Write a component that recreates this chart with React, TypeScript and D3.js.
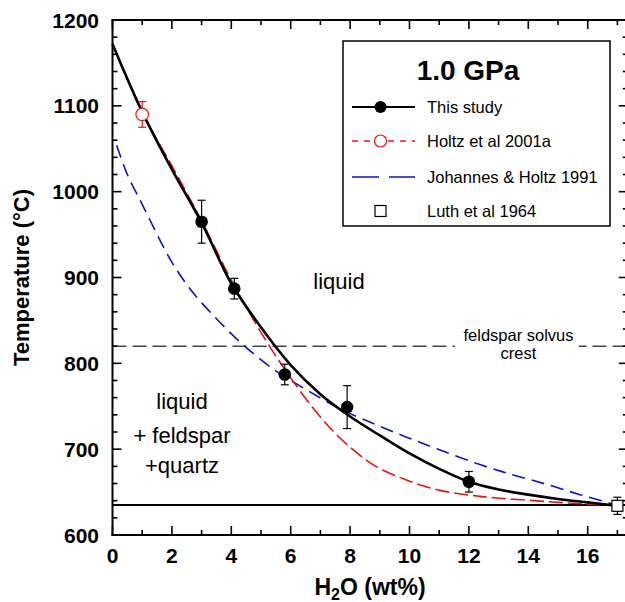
import React from "react";
import * as d3 from "d3";

// ---- data ----
const studyX = [3, 4.1, 5.8, 7.9, 12];
const studyT = [965, 887, 787, 749, 662];
const studyErr = [25, 12, 12, 25, 12];

const studyCurveX = [0, 1, 2, 3, 4, 5, 6, 7, 8, 9, 10, 11, 12, 13, 14, 15, 16, 17];
const studyCurveT = [1172, 1093, 1026, 964, 893, 842, 798, 764, 738, 716, 695, 677, 662, 653, 647, 642, 638, 634];

const holtzX = [1];
const holtzT = [1090];
const holtzErr = [15];
const holtzCurveX = [0.2, 1, 2, 3, 4, 5, 5.86, 6.87, 7.66, 8.77, 9.9, 11.03, 12.37, 14.62, 15.97, 17];
const holtzCurveT = [1155, 1092, 1030, 966, 897, 836, 790, 743, 713, 682, 664, 652, 645, 639, 636, 634];

const jhCurveX = [0.14, 0.5, 0.93, 1.26, 1.71, 2.1, 2.72, 3.5, 4.29, 4.97, 5.64, 6.54, 7.66, 8.78, 9.9, 11.03, 12.37, 13.49, 14.62, 15.74, 16.75, 17];
const jhCurveT = [1054, 1020, 990, 967, 936, 912, 882, 852, 825, 805, 788, 769, 747, 730, 714, 699, 682, 670, 659, 647, 637, 634];

const luthX = [17];
const luthT = [634];
const luthErr = [10];

const solidusT = 635;
const solvusT = 820;

const xMajorTicks = [0, 2, 4, 6, 8, 10, 12, 14, 16];
const yMajorTicks = [600, 700, 800, 900, 1000, 1100, 1200];

const legendLabels = ["This study", "Holtz et al 2001a", "Johannes & Holtz 1991", "Luth et al 1964"];

export default function App() {
  const W = 625, H = 602;
  const left = 112.5, top = 20, bottom = 535;
  const x = d3.scaleLinear().domain([0, 17.35]).range([left, 627.8]);
  const y = d3.scaleLinear().domain([600, 1200]).range([bottom, top]);
  const right = x(17.35);

  const line = d3.line<[number, number]>().x(d => x(d[0])).y(d => y(d[1])).curve(d3.curveCatmullRom.alpha(0.5));
  const zip = (a: number[], b: number[]) => a.map((v, i) => [v, b[i]] as [number, number]);

  const xMinor = d3.range(0, 18, 1);
  const yMinor = d3.range(600, 1201, 20);
  const font = "Liberation Sans, Arial, Helvetica, sans-serif";

  const errBar = (cx: number, cy: number, e: number, color: string, key: string) => (
    <g key={key} stroke={color} strokeWidth={1.2}>
      <line x1={x(cx)} x2={x(cx)} y1={y(cy + e)} y2={y(cy - e)} />
      <line x1={x(cx) - 4} x2={x(cx) + 4} y1={y(cy + e)} y2={y(cy + e)} />
      <line x1={x(cx) - 4} x2={x(cx) + 4} y1={y(cy - e)} y2={y(cy - e)} />
    </g>
  );

  const lx1 = 352, lx2 = 415, lmx = 380.5, ltx = 427;
  const ly = [107, 141, 177, 211];

  return (
    <svg width={W} height={H} style={{ position: "absolute", left: 0, top: 0, background: "#fff" }} fontFamily={font}>
      <rect x={0} y={0} width={W} height={H} fill="#fff" />
      {/* reference lines */}
      <line x1={left} x2={right} y1={y(solidusT)} y2={y(solidusT)} stroke="#000" strokeWidth={2} />
      <line x1={left} x2={right} y1={y(solvusT)} y2={y(solvusT)} stroke="#444" strokeWidth={1.5} strokeDasharray="14,6" />
      <rect x={455} y={y(solvusT) - 7} width={124} height={14} fill="#fff" />
      <text x={518.5} y={341} textAnchor="middle" fontSize={16.5} fill="#000">feldspar solvus</text>
      <text x={518.5} y={359} textAnchor="middle" fontSize={16.5} fill="#000">crest</text>

      {/* curves */}
      <path d={line(zip(jhCurveX, jhCurveT)) || ""} fill="none" stroke="#1010d0" strokeWidth={1.6} strokeDasharray="13,7" />
      <path d={line(zip(holtzCurveX, holtzCurveT)) || ""} fill="none" stroke="#ee1111" strokeWidth={1.6} strokeDasharray="14,5" />
      <path d={line(zip(studyCurveX, studyCurveT)) || ""} fill="none" stroke="#000" strokeWidth={2.6} />

      {/* error bars and markers */}
      {studyX.map((v, i) => errBar(v, studyT[i], studyErr[i], "#000", "se" + i))}
      {holtzX.map((v, i) => errBar(v, holtzT[i], holtzErr[i], "#ee1111", "he" + i))}
      {luthX.map((v, i) => errBar(v, luthT[i], luthErr[i], "#000", "le" + i))}
      {studyX.map((v, i) => <circle key={"s" + i} cx={x(v)} cy={y(studyT[i])} r={6.3} fill="#000" />)}
      {holtzX.map((v, i) => <circle key={"h" + i} cx={x(v)} cy={y(holtzT[i])} r={6.3} fill="#fff" stroke="#ee1111" strokeWidth={1.2} />)}
      {luthX.map((v, i) => <rect key={"l" + i} x={x(v) - 5.5} y={y(luthT[i]) - 5.5} width={11} height={11} fill="#fff" stroke="#000" strokeWidth={1.2} />)}

      {/* region labels */}
      <text x={339} y={289} textAnchor="middle" fontSize={22} fill="#000">liquid</text>
      <text x={182} y={409} textAnchor="middle" fontSize={22} fill="#000">liquid</text>
      <text x={182} y={443} textAnchor="middle" fontSize={22} fill="#000">+ feldspar</text>
      <text x={182} y={473} textAnchor="middle" fontSize={22} fill="#000">+quartz</text>

      {/* axes frame */}
      <g stroke="#000" strokeWidth={2} fill="none">
        <line x1={left} x2={left} y1={top} y2={bottom + 1} />
        <line x1={left - 1} x2={W} y1={bottom} y2={bottom} />
        <line x1={left - 1} x2={W} y1={top} y2={top} />
        <line x1={right} x2={right} y1={top} y2={bottom} />
      </g>
      <g stroke="#000" strokeWidth={1.6}>
        {xMinor.map(v => {
          const major = v % 2 === 0;
          const len = major ? 9 : 5;
          return (
            <g key={"xt" + v}>
              <line x1={x(v)} x2={x(v)} y1={bottom} y2={bottom - len} />
              <line x1={x(v)} x2={x(v)} y1={top} y2={top + len} />
            </g>
          );
        })}
        {yMinor.map(v => {
          const major = v % 100 === 0;
          const len = major ? 9 : 5;
          return (
            <g key={"yt" + v}>
              <line x1={left} x2={left + len} y1={y(v)} y2={y(v)} />
              <line x1={right} x2={right - len} y1={y(v)} y2={y(v)} />
            </g>
          );
        })}
      </g>
      {xMajorTicks.map(v => (
        <text key={"xl" + v} x={x(v)} y={563} textAnchor="middle" fontSize={21} fontWeight="bold">{v}</text>
      ))}
      {yMajorTicks.map(v => (
        <text key={"yl" + v} x={99} y={y(v) + 7.5} textAnchor="end" fontSize={21} fontWeight="bold">{v}</text>
      ))}
      <text x={370} y={595} textAnchor="middle" fontSize={23} fontWeight="bold">
        H<tspan fontSize={16} dy={5}>2</tspan><tspan dy={-5}>O (wt%)</tspan>
      </text>
      <text transform={`translate(29,${(top + bottom) / 2}) rotate(-90)`} textAnchor="middle" fontSize={22} fontWeight="bold">Temperature (°C)</text>

      {/* legend */}
      <rect x={343} y={41} width={267} height={185} fill="#fff" stroke="#000" strokeWidth={1.5} />
      <text x={468} y={80} textAnchor="middle" fontSize={28} fontWeight="bold">1.0 GPa</text>
      <line x1={lx1} x2={lx2} y1={ly[0]} y2={ly[0]} stroke="#000" strokeWidth={2} />
      <circle cx={lmx} cy={ly[0]} r={6} fill="#000" />
      <line x1={lx1} x2={lx2} y1={ly[1]} y2={ly[1]} stroke="#ee1111" strokeWidth={1.5} strokeDasharray="6,6" />
      <circle cx={lmx} cy={ly[1]} r={6} fill="#fff" stroke="#ee1111" strokeWidth={1.2} />
      <line x1={lx1} x2={lx2} y1={ly[2]} y2={ly[2]} stroke="#1010d0" strokeWidth={1.5} strokeDasharray="27,10" />
      <rect x={lmx - 5.5} y={ly[3] - 5.5} width={11} height={11} fill="#fff" stroke="#000" strokeWidth={1.2} />
      {legendLabels.map((t, i) => (
        <text key={"lg" + i} x={ltx} y={ly[i] + 6} fontSize={16.5}>{t}</text>
      ))}
    </svg>
  );
}
